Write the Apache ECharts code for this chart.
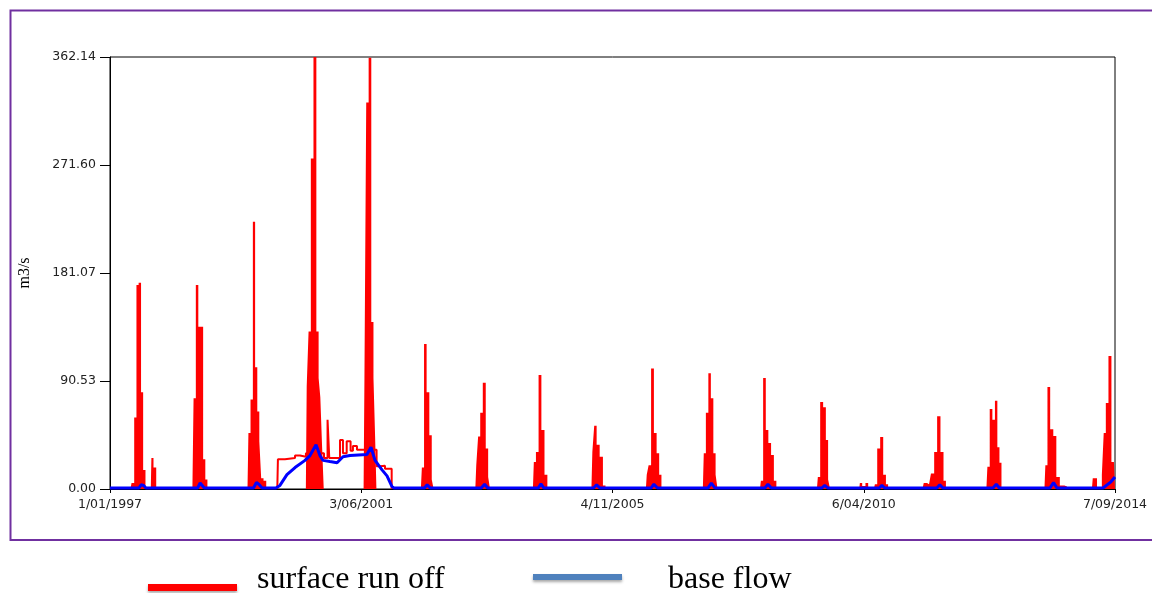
<!DOCTYPE html>
<html>
<head>
<meta charset="utf-8">
<title>Surface run off and base flow</title>
<script src="https://cdn.jsdelivr.net/npm/echarts@6.0.0/dist/echarts.min.js"></script>
<style>
  html, body { margin: 0; padding: 0; background: #ffffff; }
  #chart { width: 1152px; height: 593px; }
</style>
</head>
<body>
<div id="chart"></div>
<script>
// Simulation period and axis labels
const START = '1997-01-01';
const END = '2014-09-07';
const yTickLabels = ['0.00', '90.53', '181.07', '271.60', '362.14'];
const yMax = 362.14;

// Surface run off storm events, m3/s
const runoffEvents = [
  [['1997-05-12', 0], ['1997-05-27', 5], ['1997-06-15', 60], ['1997-06-25', 171], ['1997-07-13', 173], ['1997-07-26', 81], ['1997-08-09', 16], ['1997-08-25', 0], ['1997-09-20', 0], ['1997-09-28', 26], ['1997-10-17', 18], ['1997-11-02', 0]],
  [['1998-06-15', 0], ['1998-06-29', 76], ['1998-07-14', 171], ['1998-07-31', 136], ['1998-08-15', 136], ['1998-08-30', 25], ['1998-09-12', 8], ['1998-09-26', 0]],
  [['1999-06-04', 0], ['1999-06-15', 47], ['1999-07-01', 75], ['1999-07-15', 224], ['1999-07-30', 102], ['1999-08-12', 65], ['1999-08-25', 40], ['1999-09-05', 9], ['1999-09-24', 7], ['1999-10-10', 0]],
  [['2000-06-13', 0], ['2000-06-23', 86], ['2000-07-07', 132], ['2000-07-22', 277], ['2000-08-10', 362.14], ['2000-08-28', 132], ['2000-09-08', 93], ['2000-09-19', 77], ['2000-10-01', 35], ['2000-10-10', 0]],
  [['2001-06-19', 0], ['2001-06-29', 93], ['2001-07-12', 324], ['2001-07-30', 361.5], ['2001-08-15', 140], ['2001-08-27', 93], ['2001-09-05', 44], ['2001-09-13', 0]],
  [['2002-06-22', 0], ['2002-07-04', 18], ['2002-07-20', 121.5], ['2002-08-06', 81], ['2002-08-24', 45], ['2002-09-06', 8], ['2002-09-17', 0]],
  [['2003-06-07', 0], ['2003-06-18', 20], ['2003-07-01', 44], ['2003-07-15', 64], ['2003-08-03', 89], ['2003-08-22', 34], ['2003-09-03', 10], ['2003-09-15', 0]],
  [['2004-06-11', 0], ['2004-06-22', 22.6], ['2004-07-08', 31], ['2004-07-26', 95.5], ['2004-08-13', 49.5], ['2004-09-04', 12], ['2004-09-19', 0]],
  [['2005-06-22', 0], ['2005-07-03', 31], ['2005-07-16', 53], ['2005-08-03', 37], ['2005-08-24', 27], ['2005-09-14', 3], ['2005-09-26', 0]],
  [['2006-06-07', 0], ['2006-06-17', 12], ['2006-07-01', 20], ['2006-07-19', 101], ['2006-08-06', 47], ['2006-08-23', 30], ['2006-09-08', 12], ['2006-09-21', 0]],
  [['2007-06-08', 0], ['2007-06-19', 30], ['2007-07-05', 64], ['2007-07-21', 97], ['2007-08-06', 76], ['2007-08-22', 30], ['2007-09-04', 12], ['2007-09-16', 0]],
  [['2008-06-09', 0], ['2008-06-20', 7], ['2008-07-08', 93], ['2008-07-24', 49.5], ['2008-08-10', 38.5], ['2008-08-28', 28.5], ['2008-09-15', 7], ['2008-09-29', 0]],
  [['2009-06-10', 0], ['2009-06-21', 10], ['2009-07-10', 73], ['2009-07-29', 68.5], ['2009-08-14', 41], ['2009-08-27', 8], ['2009-09-08', 0]],
  [['2010-03-09', 0], ['2010-03-16', 5], ['2010-04-08', 2.5], ['2010-04-27', 5], ['2010-05-13', 0]],
  [['2010-06-11', 0], ['2010-06-23', 4], ['2010-07-11', 34], ['2010-07-31', 43.6], ['2010-08-19', 12], ['2010-09-04', 4], ['2010-09-16', 0]],
  [['2011-04-19', 0], ['2011-05-05', 5], ['2011-05-31', 4], ['2011-06-25', 13], ['2011-07-11', 31], ['2011-08-02', 61], ['2011-08-23', 31], ['2011-09-10', 7], ['2011-09-23', 0]],
  [['2012-06-03', 0], ['2012-06-15', 18.6], ['2012-07-03', 67], ['2012-07-19', 58], ['2012-08-05', 74], ['2012-08-19', 35], ['2012-09-01', 22], ['2012-09-14', 0]],
  [['2013-06-11', 0], ['2013-06-22', 20], ['2013-07-08', 85.6], ['2013-07-27', 50], ['2013-08-17', 44.5], ['2013-09-04', 10], ['2013-10-01', 3], ['2013-11-02', 2], ['2013-11-18', 0]],
  [['2014-04-12', 0], ['2014-04-22', 9], ['2014-05-08', 9], ['2014-05-21', 0], ['2014-06-09', 0], ['2014-06-20', 12], ['2014-07-03', 47], ['2014-07-17', 72], ['2014-08-06', 111.5], ['2014-08-24', 22.6], ['2014-09-07', 22]]
];

// Sustained surface run off between the 1999 and 2001 winters, m3/s
const sustainedRunoff = [
  ['1999-12-12', 0], ['1999-12-16', 25], ['2000-01-30', 26], ['2000-04-04', 28], ['2000-05-06', 27],
  ['2000-06-13', 30], ['2000-10-07', 26], ['2000-10-30', 58], ['2000-11-10', 26], ['2001-01-18', 41],
  ['2001-02-06', 30], ['2001-03-02', 40], ['2001-03-27', 32], ['2001-04-11', 36], ['2001-05-07', 33],
  ['2001-09-10', 19], ['2001-10-02', 19.5], ['2001-11-03', 17], ['2001-12-16', 0], ['2001-12-20', 0]
];

// Base flow, m3/s
const baseFlow = [
  ['1997-01-01', 0.8], ['1997-07-05', 0.8], ['1997-07-20', 3.5], ['1997-08-05', 3], ['1997-08-20', 0.8],
  ['1998-07-18', 0.8], ['1998-08-03', 5], ['1998-08-15', 4], ['1998-08-30', 0.8],
  ['1999-07-12', 0.8], ['1999-07-31', 5.5], ['1999-08-15', 4], ['1999-09-05', 0.8],
  ['1999-12-03', 0.8], ['1999-12-29', 3], ['2000-02-12', 12], ['2000-04-04', 18], ['2000-06-07', 24],
  ['2000-07-09', 28], ['2000-08-17', 37], ['2000-09-11', 28], ['2000-10-01', 24], ['2000-11-14', 23],
  ['2000-12-30', 22], ['2001-02-06', 27], ['2001-03-23', 28], ['2001-07-10', 29], ['2001-08-05', 35],
  ['2001-08-31', 24], ['2001-10-15', 16], ['2001-11-16', 11], ['2001-12-18', 2], ['2001-12-31', 0.8],
  ['2002-07-15', 0.8], ['2002-08-01', 3.5], ['2002-08-20', 0.8],
  ['2003-07-15', 0.8], ['2003-08-05', 4], ['2003-08-25', 0.8],
  ['2004-07-15', 0.8], ['2004-08-01', 4.4], ['2004-08-20', 0.8],
  ['2005-07-05', 0.8], ['2005-07-25', 3.5], ['2005-08-15', 0.8],
  ['2006-07-10', 0.8], ['2006-07-28', 4], ['2006-08-20', 0.8],
  ['2007-07-10', 0.8], ['2007-08-01', 5], ['2007-08-25', 0.8],
  ['2008-07-10', 0.8], ['2008-07-30', 4], ['2008-08-20', 0.8],
  ['2009-07-10', 0.8], ['2009-07-30', 3], ['2009-08-20', 0.8],
  ['2010-07-15', 0.8], ['2010-08-01', 3], ['2010-08-20', 0.8],
  ['2011-07-20', 0.8], ['2011-08-08', 3.5], ['2011-08-28', 0.8],
  ['2012-07-15', 0.8], ['2012-08-05', 4], ['2012-08-25', 0.8],
  ['2013-07-15', 0.8], ['2013-08-08', 5.3], ['2013-08-30', 0.8],
  ['2014-06-22', 0.8], ['2014-08-12', 6], ['2014-09-07', 10]
];

// ---- build series data (x = days since START) ----
const DAY = 86400000;
const t0 = Date.parse(START);
const span = (Date.parse(END) - t0) / DAY;
const toDay = d => (Date.parse(d) - t0) / DAY;
const toPoints = arr => arr.map(([d, v]) => [toDay(d), v]);

const runoffData = [];
runoffEvents.forEach((ev, i) => {
  if (i > 0) runoffData.push([toDay(ev[0][0]) - 1, '-']);
  ev.forEach(([d, v]) => runoffData.push([toDay(d), v]));
});

const fmtDate = v => {
  const d = new Date(t0 + v * DAY);
  return d.getUTCDate() + '/' + String(d.getUTCMonth() + 1).padStart(2, '0') + '/' + d.getUTCFullYear();
};

const tickFont = { fontFamily: 'DejaVu Sans', fontSize: 12.5, color: '#222' };
const legendFont = 'Liberation Serif';

const chart = echarts.init(document.getElementById('chart'), null, { renderer: 'canvas' });
chart.setOption({
  animation: false,
  backgroundColor: '#ffffff',
  grid: {
    left: 110, right: 37, top: 57, bottom: 104,
    show: true, borderColor: '#000', borderWidth: 1, backgroundColor: 'transparent'
  },
  xAxis: {
    type: 'value',
    min: 0, max: span, interval: span / 4,
    splitLine: { show: false },
    axisLine: { show: true, lineStyle: { color: '#000', width: 1 } },
    axisTick: { show: true, length: 4, lineStyle: { color: '#000' } },
    axisLabel: Object.assign({ margin: 9, showMinLabel: true, showMaxLabel: true, formatter: fmtDate }, tickFont)
  },
  yAxis: {
    type: 'value',
    min: 0, max: yMax, interval: yMax / 4,
    name: 'm3/s',
    nameLocation: 'middle',
    nameRotate: 90,
    nameGap: 77,
    nameTextStyle: { fontFamily: legendFont, fontSize: 16, color: '#000' },
    splitLine: { show: false },
    axisLine: { show: true, lineStyle: { color: '#000', width: 1 } },
    axisTick: { show: true, length: 10, lineStyle: { color: '#000' } },
    axisLabel: Object.assign({
      margin: 14,
      formatter: v => yTickLabels[Math.round(v / (yMax / 4))]
    }, tickFont)
  },
  series: [
    {
      name: 'surface run off',
      type: 'line',
      step: 'middle',
      data: runoffData,
      symbol: 'none',
      lineStyle: { width: 0, color: '#ff0000' },
      areaStyle: { color: '#ff0000', opacity: 1 },
      itemStyle: { color: '#ff0000' },
      z: 2
    },
    {
      name: 'surface run off',
      type: 'line',
      step: 'end',
      data: toPoints(sustainedRunoff),
      symbol: 'none',
      lineStyle: { width: 2, color: '#ff0000' },
      itemStyle: { color: '#ff0000' },
      z: 3
    },
    {
      name: 'base flow',
      type: 'line',
      data: toPoints(baseFlow),
      symbol: 'none',
      lineStyle: { width: 3, color: '#0000ff' },
      itemStyle: { color: '#0000ff' },
      z: 4
    }
  ],
  graphic: [
    {
      type: 'rect', silent: true, z: 0,
      shape: { x: 10.5, y: 10.5, width: 1160, height: 529.5 },
      style: { fill: 'none', stroke: '#7030a0', lineWidth: 2 }
    },
    {
      type: 'rect', silent: true,
      shape: { x: 148, y: 584, width: 89, height: 7 },
      style: { fill: '#ff0000', shadowBlur: 3, shadowOffsetY: 2, shadowColor: 'rgba(0,0,0,0.35)' }
    },
    {
      type: 'text', silent: true, x: 257, y: 580,
      style: { text: 'surface run off', fill: '#000', font: '32px "' + legendFont + '"', textVerticalAlign: 'middle' }
    },
    {
      type: 'rect', silent: true,
      shape: { x: 533, y: 574, width: 89, height: 6 },
      style: { fill: '#4f81bd', shadowBlur: 3, shadowOffsetY: 2, shadowColor: 'rgba(0,0,0,0.35)' }
    },
    {
      type: 'text', silent: true, x: 668, y: 580,
      style: { text: 'base flow', fill: '#000', font: '32px "' + legendFont + '"', textVerticalAlign: 'middle' }
    }
  ]
});
</script>
</body>
</html>
